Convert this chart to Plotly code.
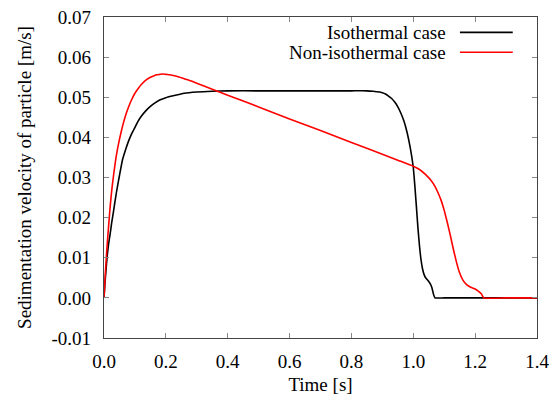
import plotly.graph_objects as go

# ---- data ----
t_iso = [0, 0.0025, 0.005, 0.01, 0.015, 0.02, 0.025, 0.03, 0.04, 0.05, 0.06, 0.07, 0.08,
         0.09, 0.10, 0.11, 0.12, 0.135, 0.15, 0.165, 0.18, 0.20, 0.22, 0.26, 0.30, 0.35,
         0.40, 0.50, 0.60, 0.70, 0.80, 0.85, 0.87, 0.89, 0.90, 0.91, 0.92, 0.93, 0.94,
         0.95, 0.96, 0.97, 0.98, 0.99, 1.00, 1.005, 1.01, 1.015, 1.02, 1.025, 1.03, 1.035,
         1.04, 1.05, 1.055, 1.06, 1.065, 1.07, 1.10, 1.20, 1.30, 1.40]
v_iso = [0, 0.0030, 0.0055, 0.0102, 0.0135, 0.0160, 0.0188, 0.0212, 0.0262, 0.0305,
         0.0345, 0.0370, 0.0392, 0.0410, 0.0425, 0.0440, 0.0452, 0.0466, 0.0477, 0.0486,
         0.0493, 0.0499, 0.0503, 0.0510, 0.0513, 0.0515, 0.0516, 0.0516, 0.0516, 0.0516,
         0.0516, 0.0516, 0.0515, 0.0513, 0.0511, 0.0508, 0.0503, 0.0497, 0.0488, 0.0476,
         0.0460, 0.0440, 0.0412, 0.0375, 0.0325, 0.0280, 0.0228, 0.0175, 0.0130, 0.0095,
         0.0072, 0.0058, 0.0050, 0.0041, 0.0035, 0.0026, 0.0010, 0.0, 0.0, 0.0, 0.0, 0.0]

t_non = [0, 0.0025, 0.005, 0.01, 0.015, 0.02, 0.025, 0.03, 0.04, 0.05, 0.06, 0.07, 0.08,
         0.09, 0.10, 0.11, 0.12, 0.13, 0.14, 0.15, 0.16, 0.17, 0.18, 0.19, 0.20, 0.21,
         0.22, 0.24, 0.26, 0.28, 0.30, 0.35, 0.40, 0.50, 0.60, 0.70, 0.80, 0.90, 0.95,
         1.00, 1.02, 1.04, 1.06, 1.07, 1.08, 1.09, 1.10, 1.11, 1.12, 1.13, 1.14, 1.15,
         1.16, 1.17, 1.18, 1.19, 1.20, 1.21, 1.22, 1.228, 1.30, 1.40]
v_non = [0, 0.0035, 0.0070, 0.0130, 0.0180, 0.0228, 0.0268, 0.0300, 0.0355, 0.0395,
         0.0428, 0.0455, 0.0477, 0.0495, 0.0510, 0.0521, 0.0531, 0.0539, 0.0545, 0.0550,
         0.0553, 0.0556, 0.0557, 0.0558, 0.0557, 0.0556, 0.0555, 0.0551, 0.0546, 0.0541,
         0.0535, 0.0520, 0.0505, 0.0476, 0.0446, 0.0417, 0.0387, 0.0358, 0.0343, 0.0328,
         0.0320, 0.0307, 0.0290, 0.0278, 0.0262, 0.0243, 0.0218, 0.0188, 0.0155, 0.0120,
         0.0088, 0.0062, 0.0045, 0.0035, 0.0029, 0.0025, 0.0022, 0.0017, 0.0010, 0.0,
         0.0, 0.0]

series_names = ["Isothermal case", "Non-isothermal case"]
series_colors = ["#000000", "#ff0000"]

x_ticks = [0.0, 0.2, 0.4, 0.6, 0.8, 1.0, 1.2, 1.4]
y_ticks = [-0.01, 0.00, 0.01, 0.02, 0.03, 0.04, 0.05, 0.06, 0.07]
y_tick_text = ["-0.01", "0.00", "0.01", "0.02", "0.03", "0.04", "0.05", "0.06", "0.07"]

FONT = "Liberation Serif, Times New Roman, serif"
FS = 19

fig = go.Figure()
for t, v, name, col in [(t_iso, v_iso, series_names[0], series_colors[0]),
                        (t_non, v_non, series_names[1], series_colors[1])]:
    fig.add_trace(go.Scatter(x=t, y=v, mode="lines", name=name,
                             line=dict(color=col, width=1.6, shape="spline", smoothing=0.4),
                             showlegend=False))

# custom legend (text right-aligned, sample line on the right)
leg_y = [0.952, 0.890]
for name, col, yy in zip(series_names, series_colors, leg_y):
    fig.add_annotation(x=0.795, y=yy, xref="paper", yref="paper", text=name,
                       showarrow=False, xanchor="right", yanchor="middle",
                       font=dict(family=FONT, size=FS, color="#000"))
    fig.add_shape(type="line", xref="paper", yref="paper",
                  x0=0.822, x1=0.944, y0=yy, y1=yy,
                  line=dict(color=col, width=1.6))

axis_common = dict(showgrid=False, zeroline=False, showline=True, linecolor="#444",
                   linewidth=1.2, mirror="allticks", ticks="inside", ticklen=5,
                   tickcolor="#888", tickwidth=1, automargin=False,
                   tickfont=dict(family=FONT, size=FS, color="#000"))

fig.update_xaxes(range=[0, 1.4], tickvals=x_ticks, tickformat=".1f",
                 title=dict(text="Time [s]", font=dict(family=FONT, size=FS, color="#000"),
                            standoff=6),
                 ticklabelstandoff=6, **axis_common)
fig.update_yaxes(range=[-0.01, 0.07], tickvals=y_ticks, ticktext=y_tick_text,
                 title=dict(text="Sedimentation velocity of particle [m/s]",
                            font=dict(family=FONT, size=FS, color="#000"), standoff=14),
                 ticklabelstandoff=8, **axis_common)

fig.update_layout(width=551, height=400, margin=dict(l=104, r=14, t=17, b=62),
                  paper_bgcolor="white", plot_bgcolor="white", showlegend=False,
                  font=dict(family=FONT, size=FS, color="#000"))

fig.write_html("out.html")
